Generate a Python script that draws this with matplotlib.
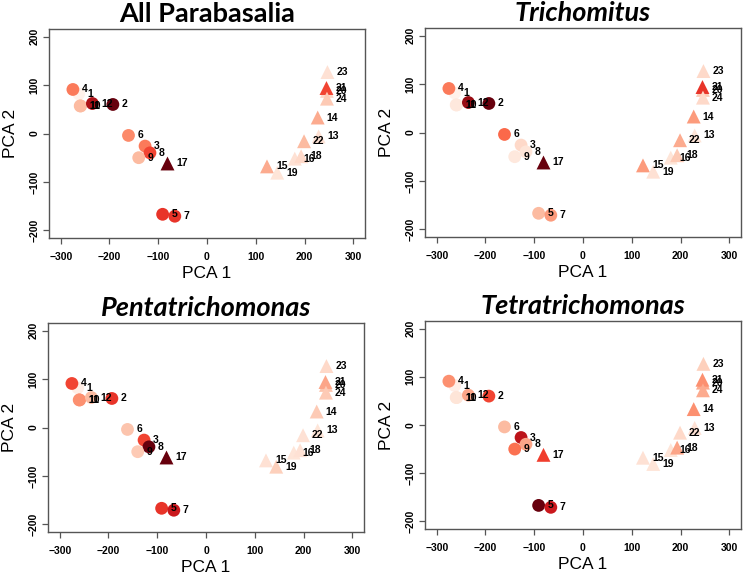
import matplotlib
matplotlib.use('Agg')
import matplotlib.pyplot as plt
import numpy as np

# Sample ids and PCA coordinates (same layout in every panel)
samples = list(range(1, 25))
pca1 = [-263, -193, -127, -275, -91, -161, -66, -117, -140, -260, -259, -235,
        229, 227, 123, 180, -81, 193, 144, 246, 245, 199, 247, 246]
pca2 = [82, 60, -26, 91, -167, -4, -171, -40, -50, 57, 57, 62,
        -6, 33, -68, -52, -62, -47, -81, 88, 94, -16, 127, 72]
# shape: circle for 1-12, triangle for 13-24
triangle = [s >= 13 for s in samples]

# colour intensity (0..1 on the Reds scale) for each panel
all_para = [0.02, 1.0, 0.45, 0.45, 0.65, 0.4, 0.65, 0.6, 0.25, 0.25, 0.25, 0.85,
            0.12, 0.3, 0.3, 0.12, 1.0, 0.15, 0.1, 0.15, 0.6, 0.25, 0.12, 0.2]
trichomitus = [0.02, 1.0, 0.15, 0.45, 0.25, 0.5, 0.35, 0.1, 0.08, 0.08, 0.08, 0.9,
               0.1, 0.35, 0.35, 0.1, 1.0, 0.2, 0.12, 0.2, 0.65, 0.3, 0.15, 0.15]
pentatrich = [0.05, 0.65, 0.6, 0.6, 0.65, 0.22, 0.75, 1.0, 0.2, 0.38, 0.38, 0.25,
              0.1, 0.2, 0.12, 0.1, 1.0, 0.12, 0.18, 0.22, 0.32, 0.12, 0.15, 0.2]
tetratrich = [0.05, 0.6, 0.8, 0.38, 1.0, 0.25, 0.75, 0.32, 0.48, 0.1, 0.1, 0.32,
              0.12, 0.38, 0.12, 0.1, 0.62, 0.32, 0.1, 0.3, 0.38, 0.15, 0.18, 0.3]

titles = ['All Parabasalia', 'Trichomitus', 'Pentatrichomonas', 'Tetratrichomonas']
panel_vals = [all_para, trichomitus, pentatrich, tetratrich]

W, H = 745, 575
fig = plt.figure(figsize=(W / 100, H / 100), dpi=100)

# axes boxes in pixels: left, top, right, bottom
boxes = [(49, 29, 365, 238), (425, 28, 741, 237),
         (48, 323, 364, 532), (425, 321, 741, 529)]

cmap = plt.get_cmap('Reds')
frame = '#555555'

for i in range(4):
    l, t, r, b = boxes[i]
    ax = fig.add_axes([l / W, 1 - b / H, (r - l) / W, (b - t) / H])
    vals = panel_vals[i]
    for k in range(len(samples)):
        m = '^' if triangle[k] else 'o'
        ax.scatter(pca1[k], pca2[k], s=100 if triangle[k] else 85, marker=m,
                   color=cmap(vals[k]), edgecolors='none', zorder=2)
        ax.annotate(str(samples[k]), (pca1[k], pca2[k]), xytext=(6.5, 0),
                    textcoords='offset points', va='center', ha='left',
                    fontsize=7.5, fontweight='bold', family='Liberation Sans',
                    zorder=3)
    ax.set_xlim(-324, 324)
    ax.set_ylim(-216, 216)
    ax.set_xticks([-300, -200, -100, 0, 100, 200, 300])
    ax.set_yticks([-200, -100, 0, 100, 200])
    for lab in ax.get_xticklabels() + ax.get_yticklabels():
        lab.set_fontsize(7.5)
        lab.set_fontweight('bold')
        lab.set_family('Liberation Sans')
    for lab in ax.get_yticklabels():
        lab.set_rotation(90)
        lab.set_va('center')
    ax.tick_params(length=4, width=0.9, color=frame)
    ax.tick_params(axis='x', pad=6)
    ax.tick_params(axis='y', pad=3)
    for sp in ax.spines.values():
        sp.set_color(frame)
        sp.set_linewidth(1.0)
    ax.set_xlabel('PCA 1', fontsize=12.5, family='Liberation Sans', labelpad=3)
    ax.set_ylabel('PCA 2', fontsize=12.5, family='Liberation Sans', labelpad=8)
    style = 'normal' if i == 0 else 'italic'
    ax.set_title(titles[i], fontsize=19.5, fontweight='bold', style=style,
                 family='Lato', pad=5)

fig.savefig('out.png', dpi=100)
